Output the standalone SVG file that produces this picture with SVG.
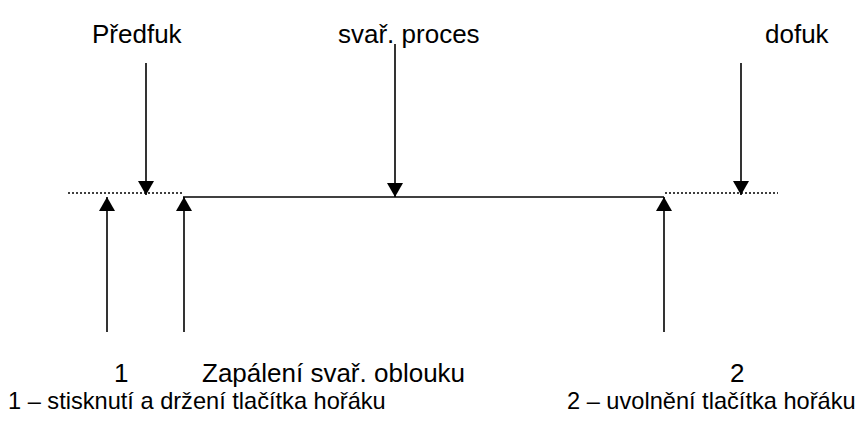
<svg xmlns="http://www.w3.org/2000/svg" width="866" height="427" viewBox="0 0 866 427">
<style>
text{font-family:"Liberation Sans",Arial,sans-serif;font-size:26px;fill:#000}
text.leg{font-size:23.6px}
.ln{stroke:#000;stroke-width:1.6;fill:none}
.dot{stroke:#000;stroke-width:1.5;stroke-dasharray:2 2;fill:none}
</style>
<defs>
<marker id="ah" markerUnits="userSpaceOnUse" viewBox="0 0 14 16" refX="14" refY="8" markerWidth="14" markerHeight="16" orient="auto">
<path d="M0,0 L14,8 L0,16 Z" fill="#000"/>
</marker>
</defs>
<rect width="866" height="427" fill="#fff"/>
<g id="timeline">
<line class="dot" x1="68" y1="193" x2="183" y2="193"/>
<line class="ln" x1="183" y1="197" x2="664" y2="197"/>
<line class="dot" x1="665" y1="193" x2="778" y2="193"/>
</g>
<g id="labels-top">
<text id="predfuk" x="92" y="43">Předfuk</text>
<text id="proces" x="338" y="43">svař. proces</text>
<text id="dofuk" x="765" y="43">dofuk</text>
</g>
<g id="labels-bottom">
<text id="n1" x="114" y="382">1</text>
<text id="zapaleni" x="202" y="382">Zapálení svař. oblouku</text>
<text id="n2" x="730" y="382">2</text>
<text id="legend1" class="leg" x="8" y="409">1 – stisknutí a držení tlačítka hořáku</text>
<text id="legend2" class="leg" x="567" y="409">2 – uvolnění tlačítka hořáku</text>
</g>
<g id="connectors">
<line class="ln" x1="146" y1="63" x2="146" y2="195" marker-end="url(#ah)"/>
<line class="ln" x1="395" y1="44" x2="395" y2="197" marker-end="url(#ah)"/>
<line class="ln" x1="741" y1="63" x2="741" y2="195" marker-end="url(#ah)"/>
<line class="ln" x1="107" y1="332" x2="107" y2="197" marker-end="url(#ah)"/>
<line class="ln" x1="184" y1="332" x2="184" y2="197" marker-end="url(#ah)"/>
<line class="ln" x1="664" y1="332" x2="664" y2="197" marker-end="url(#ah)"/>
</g>
</svg>
